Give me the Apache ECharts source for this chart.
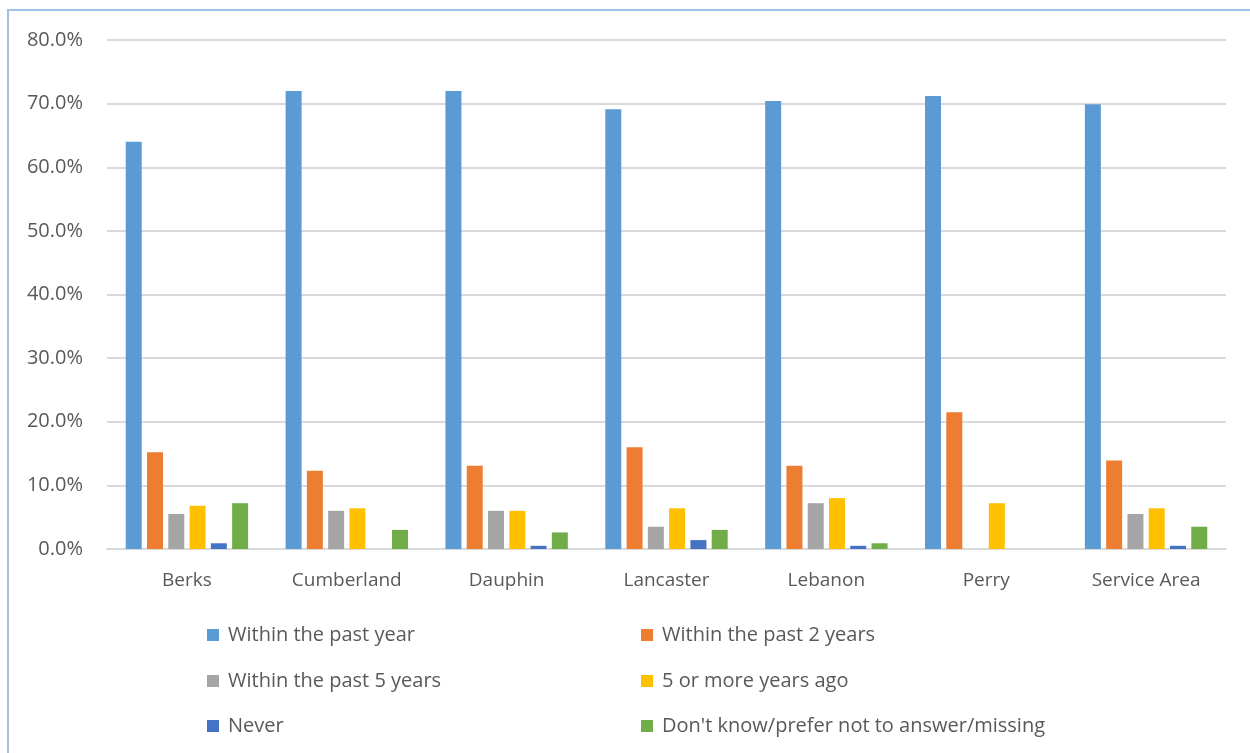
<!DOCTYPE html>
<html>
<head>
<meta charset="utf-8">
<title>Time since last visit by county</title>
<script src="https://cdn.jsdelivr.net/npm/echarts@6/dist/echarts.min.js"></script>
<style>
  html, body { margin: 0; padding: 0; background: #fff; overflow: hidden; }
  #frame {
    position: absolute; left: 7px; top: 9px; width: 1400px; height: 900px;
    border-left: 2px solid #9dc3e6; border-top: 2px solid #9dc3e6;
  }
  #chart { position: absolute; left: 0; top: 0; width: 1250px; height: 753px; }
</style>
</head>
<body>
<div id="frame"></div>
<div id="chart"></div>
<script>
// Counties shown along the x axis
const categories = ['Berks', 'Cumberland', 'Dauphin', 'Lancaster', 'Lebanon', 'Perry', 'Service Area'];

// Percent of respondents per answer, one value per county
const withinPastYear   = [64.0, 72.0, 72.0, 69.1, 70.4, 71.2, 69.9];
const withinPast2Years = [15.2, 12.3, 13.1, 16.0, 13.1, 21.5, 13.9];
const withinPast5Years = [5.5, 6.0, 6.0, 3.5, 7.2, 0, 5.5];
const fiveOrMoreYears  = [6.8, 6.4, 6.0, 6.4, 8.0, 7.2, 6.4];
const never            = [0.9, 0, 0.5, 1.4, 0.5, 0, 0.5];
const dontKnow         = [7.2, 3.0, 2.6, 3.0, 0.9, 0, 3.5];

// Y axis tick values (percent)
const yTicks = [0, 10, 20, 30, 40, 50, 60, 70, 80];

const seriesNames = [
  'Within the past year',
  'Within the past 2 years',
  'Within the past 5 years',
  '5 or more years ago',
  'Never',
  "Don't know/prefer not to answer/missing"
];
const seriesValues = [withinPastYear, withinPast2Years, withinPast5Years, fiveOrMoreYears, never, dontKnow];
const colors = ['#5b9bd5', '#ed7d31', '#a5a5a5', '#ffc000', '#4472c4', '#70ad47'];

const textColor = '#595959';
const fontFamily = '"Open Sans", "Liberation Sans", sans-serif';

// Legend laid out as two columns by three rows
const legendPos = [
  { left: 202, top: 620 }, { left: 636, top: 620 },
  { left: 202, top: 666 }, { left: 636, top: 666 },
  { left: 202, top: 711 }, { left: 636, top: 711 }
];

const chart = echarts.init(document.getElementById('chart'), null, { renderer: 'canvas' });

chart.setOption({
  animation: false,
  color: colors,
  grid: { left: 107, right: 24, top: 40, bottom: 204, containLabel: false },
  xAxis: {
    type: 'category',
    data: categories,
    axisLine: { show: true, lineStyle: { color: '#d9d9d9', width: 2 } },
    axisTick: { show: false },
    axisLabel: { color: textColor, fontSize: 19, fontFamily: fontFamily, margin: 22 }
  },
  yAxis: {
    type: 'value',
    min: yTicks[0],
    max: yTicks[yTicks.length - 1],
    interval: yTicks[1] - yTicks[0],
    axisLine: { show: false },
    axisTick: { show: false },
    splitLine: { lineStyle: { color: '#d9d9d9', width: 2 } },
    axisLabel: {
      color: textColor, fontSize: 20, fontFamily: fontFamily, margin: 24,
      formatter: v => v.toFixed(1) + '%'
    }
  },
  legend: seriesNames.map((name, i) => ({
    data: [name],
    left: legendPos[i].left,
    top: legendPos[i].top,
    orient: 'horizontal',
    icon: 'rect',
    itemWidth: 12,
    itemHeight: 12,
    itemGap: 0,
    selectedMode: false,
    textStyle: { color: textColor, fontSize: 20, fontFamily: fontFamily, padding: [0, 0, 0, 4] }
  })),
  series: seriesNames.map((name, i) => ({
    name: name,
    type: 'bar',
    data: seriesValues[i],
    barWidth: 16,
    barGap: '33%',
    itemStyle: { color: colors[i] }
  }))
});
</script>
</body>
</html>
